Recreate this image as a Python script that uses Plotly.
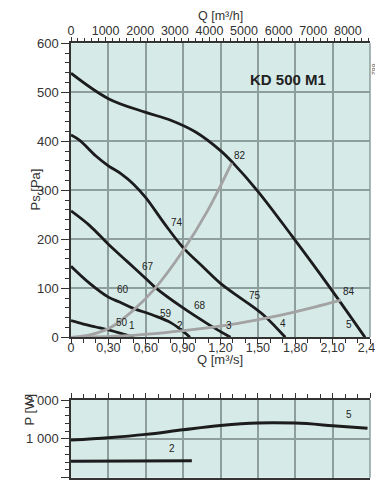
import plotly.graph_objects as go

# ---------------- data ----------------
# Fan curves, Ps [Pa] vs Q [m3/s]
q_c1 = [0, 0.1, 0.2, 0.3, 0.4, 0.5]
ps_c1 = [34, 27, 21, 15, 8, 0]
q_c2 = [0, 0.15, 0.3, 0.39, 0.49, 0.66, 0.8, 0.9, 0.955]
ps_c2 = [145, 110, 82, 72, 60, 45, 30, 12, 0]
q_c3 = [0, 0.15, 0.3, 0.45, 0.6, 0.68, 0.9, 1.1, 1.28]
ps_c3 = [258, 228, 190, 155, 120, 101, 60, 27, 0]
q_c4 = [0, 0.07, 0.2, 0.3, 0.4, 0.5, 0.6, 0.75, 0.9, 1.05, 1.2, 1.35, 1.44, 1.56, 1.72]
ps_c4 = [413, 402, 370, 350, 334, 313, 285, 232, 183, 146, 110, 82, 66, 42, 0]
q_c5 = [0, 0.3, 0.6, 0.8, 1.0, 1.2, 1.3, 1.5, 1.77, 2.08, 2.36]
ps_c5 = [539, 487, 459, 443, 419, 381, 356, 298, 208, 101, 0]

# System curves (grey)
q_sysA = [0, 0.15, 0.31, 0.49, 0.675, 0.9, 1.1, 1.29]
ps_sysA = [0, 5, 19, 53, 100, 177, 260, 356]
q_sysB = [0, 0.5, 0.955, 1.28, 1.545, 1.8, 2.166]
ps_sysB = [0, 4, 15, 26, 38, 52, 76]

# Power curves P [W] vs Q [m3/s]
q_p5 = [0, 0.3, 0.6, 0.9, 1.2, 1.5, 1.8, 2.1, 2.38]
p_p5 = [970, 1030, 1115, 1235, 1345, 1410, 1405, 1340, 1270]
q_p2 = [0, 0.5, 0.97]
p_p2 = [425, 430, 435]

# Point labels
lab_text = ["50", "1", "60", "67", "74", "59", "2", "68", "3", "75", "82", "4", "84", "5"]
lab_q = [0.41, 0.49, 0.42, 0.62, 0.85, 0.76, 0.875, 1.036, 1.27, 1.48, 1.36, 1.70, 2.235, 2.233]
lab_ps = [31, 25, 97, 144, 235, 49, 25, 64, 25, 86, 372, 29, 94, 26]
plab_text = ["5", "2"]
plab_q = [2.23, 0.81]
plab_p = [1615, 740]

# Ticks
q_ticks = [0, 0.3, 0.6, 0.9, 1.2, 1.5, 1.8, 2.1, 2.4]
q_ticktext = ["0", "0,30", "0,60", "0,90", "1,20", "1,50", "1,80", "2,10", "2,40"]
qh_ticks = [0, 1000, 2000, 3000, 4000, 5000, 6000, 7000, 8000]
qh_ticktext = ["0", "1000", "2000", "3000", "4000", "5000", "6000", "7000", "8000"]
ps_ticks = [0, 100, 200, 300, 400, 500, 600]
p_ticks = [0, 1000, 2000]
p_ticktext = ["0", "1 000", "2 000"]

# ---------------- styling ----------------
FONT = "Liberation Sans, Arial, sans-serif"
BG = "#d6ebe8"
GRID = "#8d9e9c"
AX = "#333333"
BLACK = "#1c1c1c"
GREY = "#a3a3a3"

# page body has an 8px margin: figure sits at (8, 8) in the window
W, H = 375, 474
OFF = 8


def px(xw):
    return (xw - OFF) / W


def py(yw):
    return (H - (yw - OFF)) / H


XDOM = [px(71), px(370)]
YDOM_TOP = [py(337.3), py(43.3)]
YDOM_BOT = [py(477.7), py(400)]

fig = go.Figure()

for qx, pv in [(q_c1, ps_c1), (q_c2, ps_c2), (q_c3, ps_c3), (q_c4, ps_c4), (q_c5, ps_c5)]:
    fig.add_trace(go.Scatter(x=qx, y=pv, mode="lines", xaxis="x", yaxis="y",
                             line=dict(color=BLACK, width=2.8, shape="spline", smoothing=1.0),
                             hoverinfo="skip", showlegend=False))

# system curves drawn against the m3/h axis (same positions)
for qx, pv in [(q_sysA, ps_sysA), (q_sysB, ps_sysB)]:
    fig.add_trace(go.Scatter(x=[v * 3600 for v in qx], y=pv, mode="lines", xaxis="x3", yaxis="y",
                             line=dict(color=GREY, width=2.8, shape="spline", smoothing=1.0),
                             hoverinfo="skip", showlegend=False))

for qx, pv in [(q_p5, p_p5), (q_p2, p_p2)]:
    fig.add_trace(go.Scatter(x=qx, y=pv, mode="lines", xaxis="x2", yaxis="y2",
                             line=dict(color=BLACK, width=3, shape="spline", smoothing=1.0),
                             hoverinfo="skip", showlegend=False))

yfont = dict(family=FONT, size=13, color=AX)
xfont = dict(family=FONT, size=12.5, color=AX)

fig.update_layout(
    width=W, height=H,
    margin=dict(l=0, r=0, t=0, b=0, autoexpand=False),
    paper_bgcolor="white",
    plot_bgcolor=BG,
    font=dict(family=FONT, color=AX),
    showlegend=False,
    xaxis=dict(domain=XDOM, anchor="y", range=[0, 2.4], tickmode="array", automargin=False,
               tickvals=q_ticks, ticktext=q_ticktext, tickfont=xfont,
               ticks="outside", ticklen=5, tickwidth=1, tickcolor=AX, ticklabelstandoff=-7,
               showline=True, linecolor=AX, linewidth=1.5,
               showgrid=True, gridcolor=GRID, gridwidth=1.5, zeroline=False,
               minor=dict(tick0=0, dtick=0.1, ticks="outside", ticklen=4, tickcolor=AX, showgrid=False)),
    xaxis3=dict(overlaying="x", side="top", anchor="y", range=[0, 8640], tickmode="array", automargin=False,
                tickvals=qh_ticks, ticktext=qh_ticktext, tickfont=xfont,
                ticks="outside", ticklen=5, tickwidth=1, tickcolor=AX, ticklabelstandoff=-3,
                showline=True, linecolor=AX, linewidth=1.5, showgrid=False, zeroline=False,
                minor=dict(tick0=0, dtick=200, ticks="outside", ticklen=4, tickcolor=AX, showgrid=False)),
    yaxis=dict(domain=YDOM_TOP, anchor="x", range=[0, 600], tickmode="array", automargin=False,
               tickvals=ps_ticks, tickfont=yfont,
               ticks="outside", ticklen=8, tickwidth=1, tickcolor=AX,
               showline=True, linecolor=AX, linewidth=1.5,
               showgrid=True, gridcolor=GRID, gridwidth=1.5, zeroline=False,
               minor=dict(tick0=0, dtick=20, ticks="outside", ticklen=4, tickcolor=AX, showgrid=False)),
    xaxis2=dict(domain=XDOM, anchor="y2", side="top", range=[0, 2.4], tickmode="array", automargin=False,
                tickvals=q_ticks, showticklabels=False,
                ticks="outside", ticklen=5, tickwidth=1, tickcolor=AX,
                showline=True, linecolor=AX, linewidth=1.5, mirror=True,
                showgrid=True, gridcolor=GRID, gridwidth=1.5, zeroline=False,
                minor=dict(tick0=0, dtick=0.1, ticks="outside", ticklen=4, tickcolor=AX, showgrid=False)),
    yaxis2=dict(domain=YDOM_BOT, anchor="x2", range=[0, 2000], tickmode="array", automargin=False,
                tickvals=p_ticks, ticktext=p_ticktext, tickfont=yfont,
                ticks="outside", ticklen=8, tickwidth=1, tickcolor=AX,
                showline=True, linecolor=AX, linewidth=1.5,
                showgrid=True, gridcolor=GRID, gridwidth=1.5, zeroline=False,
                minor=dict(tick0=0, dtick=200, ticks="outside", ticklen=4, tickcolor=AX, showgrid=False)),
)

# right-hand borders
for xr, yr in [("x domain", "y domain"), ("x2 domain", "y2 domain")]:
    fig.add_shape(type="line", xref=xr, yref=yr, x0=1, x1=1, y0=0, y1=1,
                  line=dict(color=GRID, width=1.5))

# point labels
for t, qv, pv in zip(lab_text, lab_q, lab_ps):
    fig.add_annotation(x=qv, y=pv, xref="x", yref="y", text=t, showarrow=False,
                       font=dict(family=FONT, size=10, color="#222"))
for t, qv, pv in zip(plab_text, plab_q, plab_p):
    fig.add_annotation(x=qv, y=pv, xref="x2", yref="y2", text=t, showarrow=False,
                       font=dict(family=FONT, size=10, color="#222"))

# model name
fig.add_annotation(x=1.745, y=527, xref="x", yref="y", text="<b>KD 500 M1</b>", showarrow=False,
                   font=dict(family=FONT, size=15, color="#222"))

# axis titles
fig.add_annotation(x=px(220), y=1.0, yanchor="top", xref="paper", yref="paper", text="Q [m³/h]",
                   showarrow=False, borderpad=0, font=dict(family=FONT, size=12.5, color=AX))
fig.add_annotation(x=px(220), y=py(368), xref="paper", yref="paper", text="Q [m³/s]",
                   showarrow=False, borderpad=0, font=dict(family=FONT, size=13, color=AX))
fig.add_annotation(x=px(25), y=py(190), xref="paper", yref="paper", text="Ps [Pa]",
                   textangle=-90, showarrow=False, font=dict(family=FONT, size=13, color=AX))
fig.add_annotation(x=px(19), y=py(428), xref="paper", yref="paper", text="P [W]",
                   textangle=-90, showarrow=False, font=dict(family=FONT, size=13, color=AX))
fig.add_annotation(x=px(379), y=py(61), xref="paper", yref="paper", text="882",
                   textangle=90, showarrow=False, font=dict(family=FONT, size=7, color="#666"))

fig.write_html("out.html")
